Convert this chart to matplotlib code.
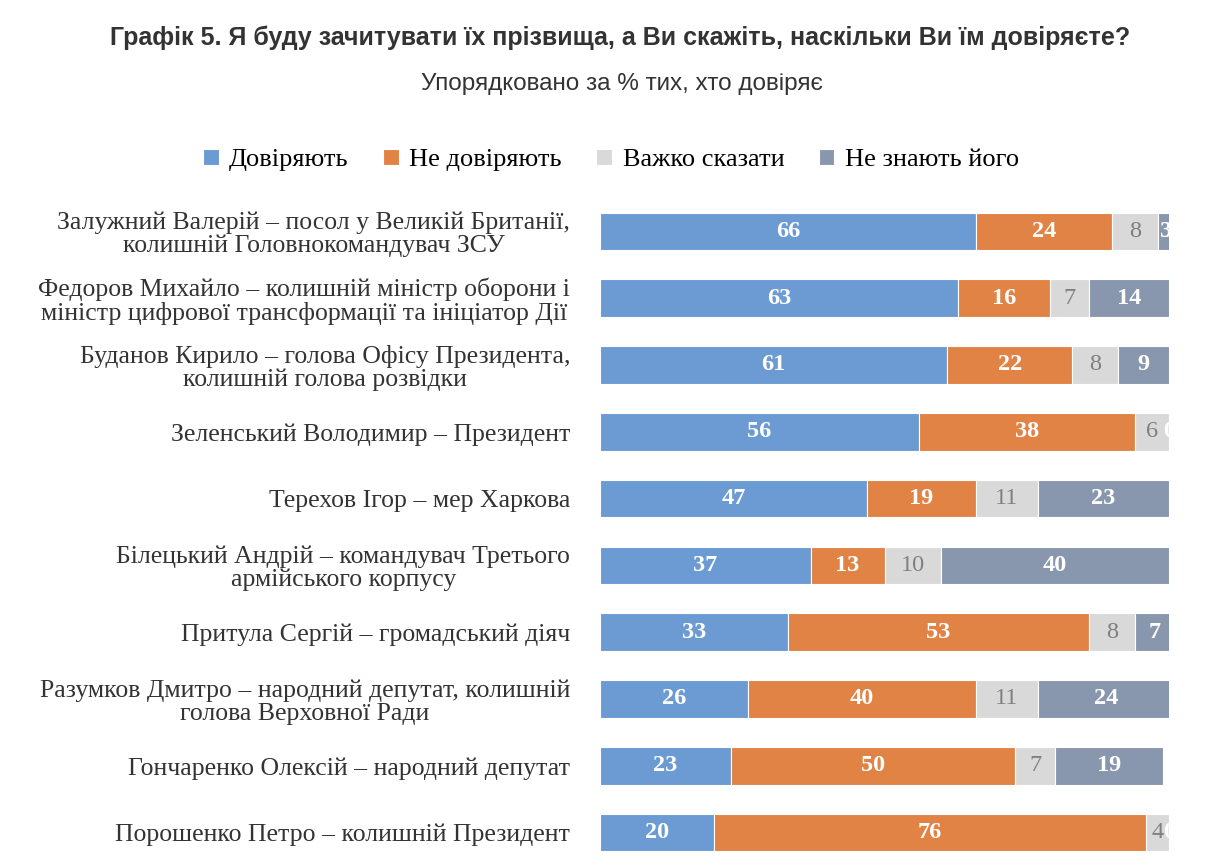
import matplotlib.pyplot as plt
import numpy as np

names = [
    "Залужний Валерій – посол у Великій Британії,\nколишній Головнокомандувач ЗСУ",
    "Федоров Михайло – колишній міністр оборони і\nміністр цифрової трансформації та ініціатор Дії",
    "Буданов Кирило – голова Офісу Президента,\nколишній голова розвідки",
    "Зеленський Володимир – Президент",
    "Терехов Ігор – мер Харкова",
    "Білецький Андрій – командувач Третього\nармійського корпусу",
    "Притула Сергій – громадський діяч",
    "Разумков Дмитро – народний депутат, колишній\nголова Верховної Ради",
    "Гончаренко Олексій – народний депутат",
    "Порошенко Петро – колишній Президент",
]
trust = [66, 63, 61, 56, 47, 37, 33, 26, 23, 20]
distrust = [24, 16, 22, 38, 19, 13, 53, 40, 50, 76]
hard = [8, 7, 8, 6, 11, 10, 8, 11, 7, 4]
unknown = [3, 14, 9, 0, 23, 40, 7, 24, 19, 0]
series = ["Довіряють", "Не довіряють", "Важко сказати", "Не знають його"]
colors = ["#6b9bd2", "#e08344", "#d9d9d9", "#8896ae"]
txtcol = ["white", "white", "#7f7f7f", "white"]
weights = ["bold", "bold", "normal", "bold"]

fig = plt.figure(figsize=(12.06, 8.66), dpi=100)
ax = fig.add_axes([600 / 1206, 1 - 866 / 866, 569 / 1206, (866 - 198) / 866])
y = np.arange(len(names))
left = np.zeros(len(names))
for vals, lab, c, tc, w in zip([trust, distrust, hard, unknown], series, colors, txtcol, weights):
    vals = np.array(vals, dtype=float)
    ax.barh(y, vals, left=left, height=0.56, color=c, label=lab, edgecolor="white", linewidth=0.8)
    for yi, l, v in zip(y, left, vals):
        ax.text(l + v / 2, yi, f"{int(v)}", ha="center", va="center", color=tc,
                fontsize=17.5, fontweight=w, family="Liberation Serif", clip_on=True)
    left += vals

ax.set_xlim(0, 100)
ax.set_ylim(len(names) - 0.5, -0.5)
ax.set_yticks(y)
ax.set_yticklabels(names, family="Liberation Serif", fontsize=18.5, color="#333333",
                   multialignment="center", linespacing=1.05)
ax.tick_params(left=False, bottom=False, labelbottom=False, pad=18)
for s in ax.spines.values():
    s.set_visible(False)

fig.legend(*ax.get_legend_handles_labels(), loc="center", bbox_to_anchor=(611 / 1206, 1 - 160 / 866),
           ncol=4, frameon=False, prop={"family": "Liberation Serif", "size": 19},
           handlelength=0.6, handleheight=0.6, columnspacing=1.3, handletextpad=0.4)
fig.text(620 / 1206, 1 - 38 / 866, "Графік 5. Я буду зачитувати їх прізвища, а Ви скажіть, наскільки Ви їм довіряєте?",
         ha="center", va="center", family="Liberation Sans", fontsize=18, fontweight="bold", color="#333333")
fig.text(622 / 1206, 1 - 84 / 866, "Упорядковано за % тих, хто довіряє",
         ha="center", va="center", family="Liberation Sans", fontsize=17.5, color="#333333")
fig.savefig("out.png", dpi=100)
